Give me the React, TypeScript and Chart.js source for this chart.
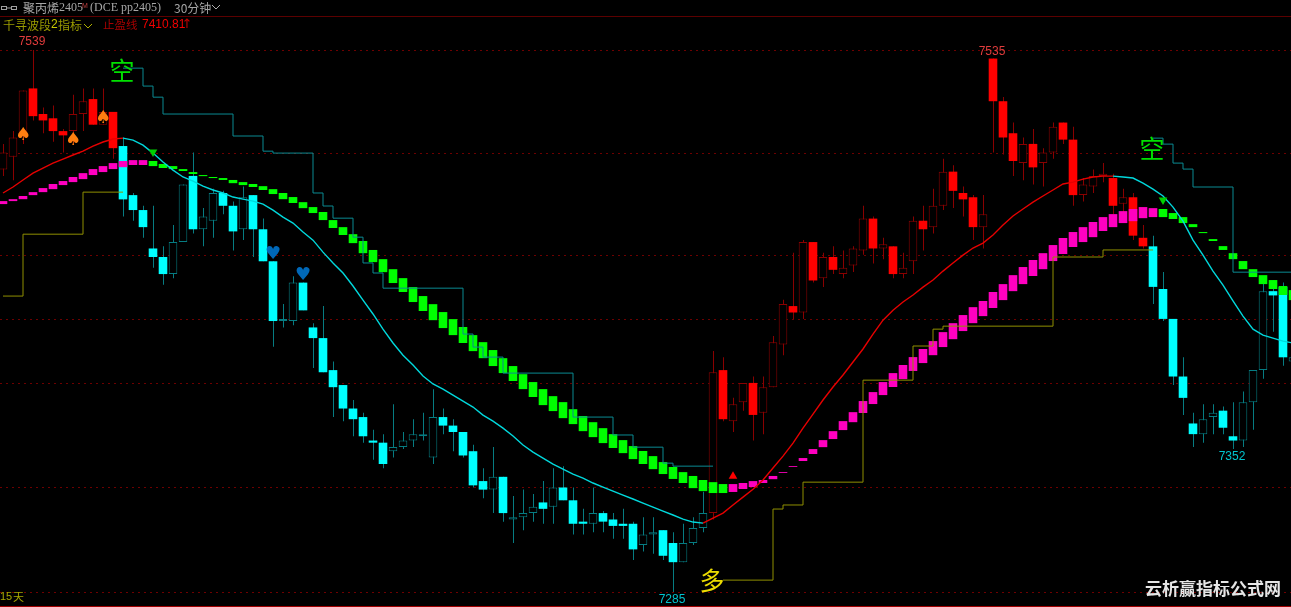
import React, { useEffect, useRef } from "react";
import { Chart, LineController, registerables } from "chart.js";

Chart.register(...registerables);
// Lines must not push the plot area in from the canvas edges.
(LineController.prototype as any).getMaxOverflow = () => false;

const opens = [
  7483,7489,7499,7521,7509,7507,7501,7501,7509,7516,
  7504,7510,7494,7471,7464,7446,7442,7434,7449,7480,
  7455,7459,7472,7466,7455,7471,7455,7440,7412,7412,
  7430,7409,7404,7389,7382,7371,7367,7356,7355,7351,
  7353,7356,7358,7348,7367,7363,7360,7351,7337,7333,
  7339,7319,7320,7322,7327,7325,7334,7328,7318,7317,
  7322,7319,7317,7317,7307,7312,7314,7308,7299,7308,
  7315,7322,7389,7365,7374,7383,7369,7381,7401,7419,
  7416,7449,7432,7442,7434,7438,7445,7460,7446,7447,
  7434,7440,7459,7456,7466,7482,7472,7470,7456,7535,
  7515,7500,7486,7495,7486,7491,7505,7497,7471,7475,
  7480,7479,7467,7470,7451,7447,7427,7413,7386,7364,
  7359,7367,7370,7358,7356,7374,7389,7426,7428,7393,
];
const closes = [
  7491,7498,7520,7508,7506,7501,7499,7509,7515,7504,
  7510,7493,7469,7464,7456,7442,7434,7449,7476,7455,
  7461,7472,7466,7454,7470,7455,7440,7412,7413,7430,
  7417,7404,7388,7381,7371,7366,7358,7355,7345,7353,
  7356,7359,7359,7367,7363,7360,7349,7335,7333,7339,
  7322,7320,7322,7325,7324,7334,7328,7317,7317,7322,
  7318,7316,7316,7305,7312,7313,7302,7299,7308,7315,
  7322,7388,7366,7373,7383,7368,7381,7402,7420,7416,
  7449,7431,7442,7436,7437,7446,7460,7446,7448,7434,
  7437,7459,7455,7466,7482,7473,7469,7456,7462,7515,
  7498,7487,7495,7484,7491,7503,7497,7471,7476,7480,
  7481,7466,7470,7452,7447,7428,7413,7386,7376,7359,
  7366,7369,7362,7356,7374,7389,7426,7424,7395,7395,
];
const highs = [
  7495,7501,7520,7539,7512,7513,7502,7518,7521,7521,
  7521,7510,7498,7472,7466,7466,7447,7457,7476,7491,
  7465,7474,7473,7468,7475,7471,7460,7440,7420,7433,
  7430,7411,7419,7393,7382,7375,7369,7361,7359,7373,
  7360,7366,7369,7380,7371,7366,7360,7354,7343,7353,
  7339,7330,7333,7331,7337,7343,7344,7334,7324,7334,
  7323,7322,7324,7318,7320,7320,7314,7313,7317,7320,
  7332,7398,7395,7376,7383,7386,7386,7405,7422,7444,
  7450,7449,7444,7447,7445,7447,7466,7461,7451,7447,
  7444,7461,7466,7474,7488,7485,7475,7471,7471,7535,
  7517,7505,7498,7502,7493,7505,7505,7503,7479,7483,
  7486,7481,7474,7472,7457,7452,7435,7413,7395,7369,
  7373,7373,7372,7374,7379,7389,7430,7431,7430,7398,
];
const lows = [
  7480,7478,7495,7506,7500,7496,7491,7495,7501,7504,
  7504,7488,7461,7459,7451,7437,7429,7432,7449,7453,
  7447,7451,7462,7445,7450,7442,7440,7400,7409,7410,
  7417,7390,7388,7367,7365,7358,7355,7347,7343,7348,
  7352,7353,7356,7345,7359,7351,7348,7334,7329,7322,
  7318,7308,7314,7318,7317,7317,7328,7312,7312,7313,
  7313,7310,7310,7300,7304,7303,7300,7285,7299,7307,
  7313,7319,7365,7360,7370,7356,7359,7381,7396,7413,
  7413,7430,7428,7434,7432,7435,7443,7439,7441,7432,
  7432,7434,7445,7453,7464,7465,7461,7450,7446,7491,
  7490,7480,7478,7476,7475,7488,7495,7466,7468,7472,
  7477,7462,7463,7450,7446,7420,7412,7382,7368,7353,
  7355,7359,7359,7352,7353,7361,7385,7407,7391,7391,
];
const stopLine = [
  7472.0,7474.8,7478.1,7481.3,7483.7,7486.0,7487.9,7489.8,7491.6,7494.0,
  7495.9,7497.3,7497.7,7496.8,7494.4,7490.7,7486.5,7482.7,7479.5,7477.6,
  7475.2,7473.4,7472.0,7470.1,7469.1,7468.2,7466.8,7464.0,7460.7,7457.9,
  7453.7,7449.9,7444.3,7439.2,7434.5,7428.4,7421.8,7415.3,7408.2,7401.7,
  7396.0,7391.4,7386.2,7382.5,7380.1,7377.3,7374.5,7371.7,7367.9,7365.1,
  7361.8,7358.1,7353.9,7350.6,7347.8,7345.0,7342.6,7340.3,7338.4,7336.1,
  7334.2,7332.3,7330.4,7328.6,7326.7,7324.8,7322.9,7321.1,7319.2,7317.8,
  7317.3,7319.7,7322.0,7325.8,7329.5,7333.2,7337.5,7343.1,7348.7,7354.8,
  7361.8,7368.4,7375.0,7381.1,7386.7,7392.8,7398.9,7405.9,7412.4,7417.1,
  7420.9,7424.2,7427.9,7431.2,7435.4,7439.2,7442.9,7446.2,7448.5,7452.3,
  7457.0,7461.2,7464.5,7467.7,7470.6,7473.4,7476.2,7477.1,7478.5,7479.5,
  7479.9,7479.9,7479.5,7479.0,7476.6,7473.8,7470.6,7465.4,7458.8,7449.9,
  7442.9,7435.4,7428.8,7421.4,7414.3,7408.2,7405.4,7404.0,7402.6,7401.7,
];
const ribbonHigh = [
  7468.2,7469.1,7470.6,7472.4,7474.3,7476.2,7477.6,7479.5,7481.3,7483.2,
  7484.6,7486.0,7487.0,7487.4,7487.4,7487.0,7485.6,7484.6,7483.2,7481.8,
  7480.4,7479.5,7479.0,7478.1,7477.1,7476.2,7475.2,7473.8,7472.0,7470.1,
  7467.7,7465.4,7463.1,7459.3,7456.0,7452.7,7449.5,7445.3,7441.0,7436.3,
  7432.1,7427.9,7423.7,7419.9,7416.2,7412.9,7409.2,7405.4,7402.1,7398.4,
  7394.6,7390.9,7387.1,7383.4,7380.1,7376.8,7374.0,7370.7,7367.5,7364.6,
  7361.8,7359.0,7356.2,7353.4,7351.1,7348.7,7345.9,7343.6,7341.2,7339.4,
  7337.5,7336.5,7335.6,7335.6,7336.1,7337.0,7337.5,7339.4,7341.2,7344.0,
  7347.8,7352.0,7356.2,7360.4,7365.1,7369.3,7374.5,7378.7,7383.4,7387.6,
  7391.4,7395.1,7398.9,7402.6,7406.8,7411.0,7414.8,7418.5,7421.4,7425.6,
  7429.3,7433.5,7437.3,7440.6,7443.8,7447.6,7450.9,7453.7,7456.0,7458.4,
  7460.7,7462.1,7463.5,7464.5,7465.4,7464.9,7464.5,7462.6,7460.7,7457.4,
  7453.7,7450.4,7447.1,7443.8,7440.1,7436.3,7433.5,7431.2,7428.4,7426.5,
];
const ribbonLow = [
  7466.8,7468.2,7469.1,7471.0,7472.4,7473.8,7475.7,7477.1,7478.5,7480.4,
  7481.8,7483.2,7484.1,7485.1,7485.1,7484.6,7483.7,7483.2,7482.3,7480.9,
  7479.9,7479.0,7478.1,7476.6,7475.7,7474.8,7473.4,7471.5,7469.1,7467.3,
  7464.9,7462.6,7459.3,7455.6,7452.3,7448.5,7443.8,7439.6,7434.9,7429.8,
  7425.6,7420.9,7416.7,7412.4,7408.7,7405.4,7401.7,7397.9,7394.6,7390.9,
  7387.6,7383.9,7380.1,7376.4,7372.6,7369.8,7366.5,7363.7,7360.4,7357.6,
  7354.8,7352.5,7350.1,7347.3,7345.0,7342.6,7340.3,7338.0,7336.1,7333.7,
  7332.3,7331.4,7331.4,7331.9,7333.3,7334.2,7336.1,7337.9,7340.8,7343.6,
  7346.4,7349.7,7352.9,7356.7,7360.9,7364.6,7368.9,7373.1,7377.3,7381.1,
  7384.8,7388.6,7392.3,7396.0,7399.8,7403.5,7407.3,7411.0,7414.3,7418.1,
  7421.8,7426.0,7429.3,7433.1,7436.3,7440.1,7443.4,7446.7,7449.0,7451.3,
  7454.2,7456.0,7457.9,7458.8,7460.2,7460.7,7460.7,7459.8,7457.9,7456.0,
  7453.2,7449.5,7445.3,7441.0,7436.3,7432.6,7429.3,7427.0,7424.2,7421.8,
];

// [bar index, price after the step]
const supportA = [[0,7423.7],[2,7452.7],[8,7472.4],[12,7472.4]];
const supportB = [[72,7290.6],[77,7323.9],[78,7325.8],[80,7336.5],[86,7384.3],[91,7400.3],[93,7408.2],[94,7409.6],[105,7442.0],[110,7445.3],[115,7445.3]];
const resistA = [[12,7530.5],[14,7522.1],[15,7516.9],[16,7509.0],[23,7498.7],[26,7491.6],[27,7490.7],[31,7472.0],[32,7465.9],[33,7460.2],[35,7451.3],[36,7439.2],[37,7434.5],[38,7427.4],[46,7405.9],[47,7399.8],[48,7395.1],[50,7387.6],[57,7367.0],[61,7358.6],[63,7352.9],[66,7345.4],[67,7344.0],[71,7344.0]];
const resistB = [[115,7497.7],[116,7494.9],[117,7486.0],[118,7483.2],[119,7474.8],[123,7434.9],[129,7434.9]];

const bullCandleRuns = [[0,11],[71,114]];
const bullLineRuns = [[0,12],[70,111]];
const bullRibbonRuns = [[0,14],[73,115]];

const gridPrices = [7539, 7490.7, 7442.5, 7412.5, 7382.5, 7334.2, 7285];
const priceMin = 7278.0;
const priceMax = 7562.43;
const indexMin = -0.3;
const indexMax = 128.8;

const priceLabels = [
  { i: 2.9, p: 7542.8, text: "7539", color: "#e03c3c" },
  { i: 98.9, p: 7538.4, text: "7535", color: "#e03c3c" },
  { i: 66.9, p: 7281.3, text: "7285", color: "#00c4cf" },
  { i: 122.9, p: 7348.3, text: "7352", color: "#00c4cf" },
];
const signals = [
  { i: 11.9, p: 7529.6, text: "空", color: "#00e000" },
  { i: 114.9, p: 7493.0, text: "空", color: "#00e000" },
  { i: 70.9, p: 7290.2, text: "多", color: "#ecdc00" },
];
const spades = [[2,7499.1],[7,7496.8],[10,7507.1]];
const hearts = [[27,7443.4],[30,7433.5]];
const upMarks = [[73,7339.3]];
const downMarks = [[15,7491.2],[116,7468.7]];

const inRuns = (runs: number[][], i: number) => runs.some(([a, b]) => i >= a && i <= b);
const toPoints = (pairs: number[][]) => pairs.map(([x, y]) => ({ x, y }));

const CJK = '"Noto Sans CJK SC"';

const overlay = {
  id: "overlay",
  afterDatasetsDraw(chart: any) {
    const { ctx, scales } = chart;
    const x = scales.x;
    const y = scales.y;
    const put = (s: string, px: number, py: number, font: string, color: string, align: CanvasTextAlign = "left") => {
      ctx.font = font;
      ctx.fillStyle = color;
      ctx.textAlign = align;
      ctx.textBaseline = "middle";
      ctx.fillText(s, px, py);
    };
    const chevron = (cx: number, cy: number, color: string) => {
      ctx.strokeStyle = color;
      ctx.lineWidth = 1;
      ctx.beginPath();
      ctx.moveTo(cx - 4, cy - 2);
      ctx.lineTo(cx, cy + 2);
      ctx.lineTo(cx + 4, cy - 2);
      ctx.stroke();
    };
    ctx.save();

    ctx.fillStyle = "#000";
    ctx.fillRect(0, 0, 1291, 16);
    ctx.fillStyle = "#5c0000";
    ctx.fillRect(0, 16, 1291, 1);
    ctx.fillStyle = "#a00000";
    ctx.fillRect(0, 606, 1291, 1);

    ctx.strokeStyle = "#a0a0a0";
    ctx.lineWidth = 1;
    ctx.strokeRect(1.5, 6.5, 5, 3);
    ctx.strokeRect(11.5, 6.5, 5, 3);
    ctx.beginPath();
    ctx.moveTo(6, 8);
    ctx.lineTo(12, 8);
    ctx.stroke();

    put("聚丙烯", 23, 8, `12px ${CJK}`, "#a6a6a6");
    put("2405", 59, 8, '12px "Liberation Serif"', "#a6a6a6");
    put("M", 82, 6, '7px "Liberation Sans"', "#c04040");
    put("(DCE pp2405)", 90, 8, '12px "Liberation Serif"', "#a6a6a6");
    put("30分钟", 174, 8, `12px ${CJK}`, "#a6a6a6");
    chevron(216, 7, "#b0b0b0");

    put("千寻波段", 3, 25, `12px ${CJK}`, "#9a9a00");
    put("2", 51, 25, '12px "Liberation Sans"', "#c8c800");
    put("指标", 58, 25, `12px ${CJK}`, "#9a9a00");
    chevron(88, 26, "#b0b000");
    put("止盈线", 103, 25, `11.5px ${CJK}`, "#a80000");
    put("7410.81", 142, 25, '12px "Liberation Sans"', "#f00000");
    put("↑", 187, 25, '13px "DejaVu Sans"', "#c00000", "center");

    put("15", 0, 597, '11px "Liberation Sans"', "#a8a800");
    put("天", 13, 597, `11px ${CJK}`, "#a8a800");
    put("云析赢指标公式网", 1145, 589, `bold 17px ${CJK}`, "#e6e6e6");

    for (const l of priceLabels) put(l.text, x.getPixelForValue(l.i), y.getPixelForValue(l.p), '12px "Liberation Sans"', l.color, "center");
    for (const s of signals) put(s.text, x.getPixelForValue(s.i), y.getPixelForValue(s.p), `25px ${CJK}`, s.color, "center");
    for (const [i, p] of spades) put("♠", x.getPixelForValue(i), y.getPixelForValue(p), '18px "DejaVu Sans"', "#ff7f10", "center");
    for (const [i, p] of hearts) put("♥", x.getPixelForValue(i), y.getPixelForValue(p), '18px "DejaVu Sans"', "#0068b8", "center");
    ctx.restore();
  },
};

export default function App() {
  const ref = useRef<HTMLCanvasElement | null>(null);
  useEffect(() => {
    const idx = opens.map((_, i) => i);
    const solid = (i: number) => closes[i] <= opens[i];
    const bull = (i: number) => inRuns(bullCandleRuns, i);
    const dim = (i: number) => (bull(i) ? "#8a0000" : "#067c82");
    const bright = (i: number) => (bull(i) ? "#ff0000" : "#00ffff");
    const steps = (pairs: number[][], color: string) => ({
      type: "line",
      data: toPoints(pairs),
      stepped: "before",
      borderColor: color,
      borderWidth: 1,
      pointRadius: 0,
      fill: false,
      order: 3,
    });
    const chart = new Chart(ref.current as HTMLCanvasElement, {
      type: "bar",
      data: {
        datasets: [
          {
            type: "bar",
            xAxisID: "xw",
            data: idx.map((i) => ({ x: i, y: [lows[i], highs[i]] })),
            backgroundColor: idx.map(dim),
            barThickness: 1,
            grouped: false,
            borderWidth: 0,
            inflateAmount: 0,
            order: 6,
          },
          {
            type: "bar",
            data: idx.map((i) => ({ x: i, y: [opens[i], closes[i]] })),
            backgroundColor: idx.map((i) => (solid(i) ? bright(i) : "#000000")),
            borderColor: idx.map(dim),
            borderWidth: idx.map((i) => (solid(i) ? 0 : 1)),
            borderSkipped: false,
            barThickness: 8.6,
            grouped: false,
            inflateAmount: 0,
            order: 5,
          },
          {
            type: "bar",
            data: idx.map((i) => ({ x: i, y: [ribbonLow[i], ribbonHigh[i]] })),
            backgroundColor: idx.map((i) => (inRuns(bullRibbonRuns, i) ? "#ff00c0" : "#00ff00")),
            borderWidth: 0,
            barThickness: 8.6,
            grouped: false,
            inflateAmount: 0,
            order: 4,
          },
          steps(supportA, "#8f8f00"),
          steps(supportB, "#8f8f00"),
          steps(resistA, "#0a8a92"),
          steps(resistB, "#0a8a92"),
          {
            type: "line",
            data: idx.map((i) => ({ x: i, y: stopLine[i] })),
            borderWidth: 1.4,
            pointRadius: 0,
            fill: false,
            segment: {
              borderColor: (c: any) => (inRuns(bullLineRuns, c.p0DataIndex) && c.p0DataIndex !== 12 && c.p0DataIndex !== 111 ? "#e60000" : "#00d8dc"),
            },
            order: 2,
          },
          {
            type: "line",
            data: toPoints(upMarks),
            showLine: false,
            pointStyle: "triangle",
            pointRadius: 5,
            pointBorderWidth: 0,
            pointBackgroundColor: "#ff0000",
            order: 1,
          },
          {
            type: "line",
            data: toPoints(downMarks),
            showLine: false,
            pointStyle: "triangle",
            pointRotation: 180,
            pointRadius: 5,
            pointBorderWidth: 0,
            pointBackgroundColor: "#00d000",
            order: 1,
          },
        ],
      } as any,
      options: {
        responsive: false,
        animation: false,
        devicePixelRatio: 1,
        events: [],
        layout: { padding: 0 },
        plugins: { legend: { display: false }, tooltip: { enabled: false }, title: { display: false } },
        scales: {
          x: { type: "linear", display: false, offset: false, min: indexMin, max: indexMax, grid: { display: false } },
          xw: { type: "linear", display: false, offset: false, min: indexMin - 0.05, max: indexMax - 0.05, grid: { display: false } },
          y: {
            type: "linear",
            min: priceMin,
            max: priceMax,
            afterBuildTicks: (scale: any) => {
              scale.ticks = gridPrices.map((value) => ({ value }));
            },
            ticks: { display: false, autoSkip: false },
            grid: { color: "#6e0000", lineWidth: 1, drawTicks: false },
            border: { display: false, dash: [2, 4] },
          },
        },
      } as any,
      plugins: [overlay],
    } as any);
    return () => chart.destroy();
  }, []);
  return (
    <div style={{ position: "fixed", left: 0, top: 0, width: 1291, height: 607, background: "#000" }}>
      <canvas ref={ref} width={1291} height={607} style={{ display: "block", background: "#000" }} />
    </div>
  );
}
